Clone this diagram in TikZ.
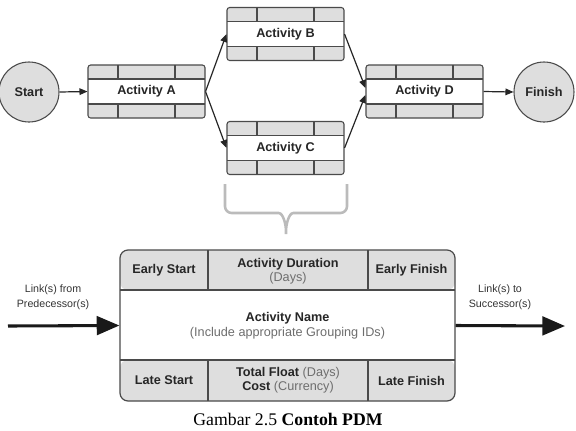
\documentclass[tikz,border=0pt]{standalone}
\usepackage{fontspec}
\setmainfont{Liberation Serif}
\setsansfont{Liberation Sans}
\usetikzlibrary{arrows.meta,positioning}
\definecolor{edge}{HTML}{4A4A4A}
\definecolor{band}{HTML}{DEDEDE}
\definecolor{note}{HTML}{6E6E6E}
\definecolor{bracket}{HTML}{BBBBBB}
\tikzset{
  event/.style={circle,draw=edge,fill=band,line width=0.8pt,minimum size=45pt,inner sep=0pt,
                font=\sffamily\bfseries\fontsize{9.5}{11}\selectfont,text=black!85},
  actbox/.style={draw=edge,rounded corners=2pt,fill=white,line width=0.8pt,inner sep=0pt,
                 minimum width=87.75pt,minimum height=39.75pt,
                 font=\sffamily\bfseries\fontsize{9.5}{11}\selectfont,text=black!85,
                 path picture={
                   \fill[band] (path picture bounding box.north west) rectangle ([yshift=-10.5pt]path picture bounding box.north east);
                   \fill[band] (path picture bounding box.south west) rectangle ([yshift=10.5pt]path picture bounding box.south east);
                   \draw[edge,line width=0.8pt] ([yshift=-10.5pt]path picture bounding box.north west) -- ([yshift=-10.5pt]path picture bounding box.north east);
                   \draw[edge,line width=0.8pt] ([yshift=10.5pt]path picture bounding box.south west) -- ([yshift=10.5pt]path picture bounding box.south east);
                   \draw[edge,line width=0.8pt] ([xshift=22.5pt]path picture bounding box.north west) -- ([xshift=22.5pt,yshift=-10.5pt]path picture bounding box.north west);
                   \draw[edge,line width=0.8pt] ([xshift=-22.5pt]path picture bounding box.north east) -- ([xshift=-22.5pt,yshift=-10.5pt]path picture bounding box.north east);
                   \draw[edge,line width=0.8pt] ([xshift=22.5pt]path picture bounding box.south west) -- ([xshift=22.5pt,yshift=10.5pt]path picture bounding box.south west);
                   \draw[edge,line width=0.8pt] ([xshift=-22.5pt]path picture bounding box.south east) -- ([xshift=-22.5pt,yshift=10.5pt]path picture bounding box.south east);
                 }},
  pdmbox/.style={draw=edge,rounded corners=6pt,fill=white,line width=0.9pt,inner sep=0pt,align=center,
                 minimum width=251.25pt,minimum height=113.25pt,
                 font=\sffamily\fontsize{9.5}{11.25}\selectfont,text=black!85,
                 path picture={
                   \fill[band] (path picture bounding box.north west) rectangle ([yshift=-30pt]path picture bounding box.north east);
                   \fill[band] (path picture bounding box.south west) rectangle ([yshift=30.75pt]path picture bounding box.south east);
                   \draw[edge,line width=0.9pt] ([yshift=-30pt]path picture bounding box.north west) -- ([yshift=-30pt]path picture bounding box.north east);
                   \draw[edge,line width=0.9pt] ([yshift=30.75pt]path picture bounding box.south west) -- ([yshift=30.75pt]path picture bounding box.south east);
                   \draw[edge,line width=0.9pt] ([xshift=66pt]path picture bounding box.north west) -- ([xshift=66pt,yshift=-30pt]path picture bounding box.north west);
                   \draw[edge,line width=0.9pt] ([xshift=-65.25pt]path picture bounding box.north east) -- ([xshift=-65.25pt,yshift=-30pt]path picture bounding box.north east);
                   \draw[edge,line width=0.9pt] ([xshift=66pt]path picture bounding box.south west) -- ([xshift=66pt,yshift=30.75pt]path picture bounding box.south west);
                   \draw[edge,line width=0.9pt] ([xshift=-65.25pt]path picture bounding box.south east) -- ([xshift=-65.25pt,yshift=30.75pt]path picture bounding box.south east);
                 }},
  cell/.style={align=center,inner sep=0pt,font=\sffamily\bfseries\fontsize{9.5}{10.5}\selectfont,text=black!85},
  linknote/.style={align=center,inner sep=0pt,font=\sffamily\fontsize{8}{11}\selectfont,text=black!80},
  link/.style={-{Triangle[length=6pt,width=5pt]},black!85,line width=0.9pt},
  biglink/.style={-{Triangle[length=17pt,width=14pt]},black!90,line width=2.3pt},
  bracket/.style={draw=bracket,line width=1.9pt,rounded corners=5pt},
}

\begin{document}
\begin{tikzpicture}[x=0.75pt,y=-0.75pt]
\useasboundingbox (0,0) rectangle (576,430);

% --- the small network ---
\node[event]  (start)  at (29,92)      {Start};
\node[actbox] (actA)   at (146.5,91.5) {Activity A};
\node[actbox] (actB)   at (285.5,34)   {Activity B};
\node[actbox] (actC)   at (285.5,148)  {Activity C};
\node[actbox] (actD)   at (424.5,91.5) {Activity D};
\node[event]  (finish) at (544,92)     {Finish};

\foreach \a/\b in {start.east/actA.west, actA.east/actB.west, actA.east/actC.west, actD.east/finish.west}
  \draw[link] (\a) -- (\b);
\draw[link] (actB.east) -- ([yshift=2.6pt]actD.west);
\draw[link] (actC.east) -- ([yshift=-2.6pt]actD.west);

% --- brace under Activity C ---
\draw[bracket] (225,184) |- (272,213) .. controls (283,213) and (286,224) .. (286,238)
  .. controls (286,224) and (289,213) .. (300,213) -| (347,184);

% --- one activity node in detail ---
\node[pdmbox] (pdm) at (287.5,325.5)
  {\textbf{Activity Name}\\{\color{note}(Include appropriate Grouping IDs)}};
\node[cell] (es)  at (164,270)     {Early Start};
\node[cell] (dur) at (288,271)     {Activity Duration\\{\mdseries\color{note}(Days)}};
\node[cell] (ef)  at (411.5,270)   {Early Finish};
\node[cell] (ls)  at (164,380.5)   {Late Start};
\node[cell] (flt) at (288,380.5)   {Total Float {\mdseries\color{note}(Days)}\\Cost {\mdseries\color{note}(Currency)}};
\node[cell] (lf)  at (411.5,380.5) {Late Finish};

\coordinate (pred) at (8,326);
\coordinate (succ) at (565,326);
\draw[biglink] (pred) -- (pdm.west);
\draw[biglink] (pdm.east) -- (succ);
\node[linknote] (predtxt) at (53,297) {Link(s) from\\Predecessor(s)};
\node[linknote] (succtxt) at (500,297) {Link(s) to\\Successor(s)};

\node[font=\fontsize{13.3}{15}\selectfont] (cap) at (288,419) {Gambar 2.5 \textbf{Contoh PDM}};

\end{tikzpicture}
\end{document}
